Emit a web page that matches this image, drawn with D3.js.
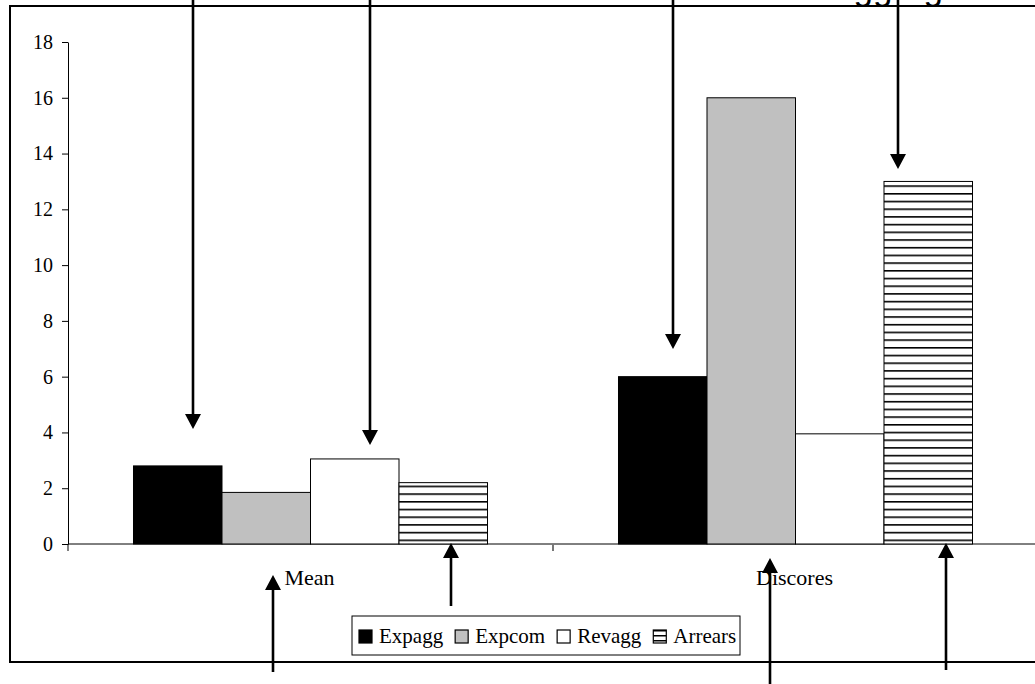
<!DOCTYPE html>
<html>
<head>
  <meta charset="utf-8">
  <title>Mean and Discores</title>
  <style>
    body { margin: 0; background: #fff; }
    svg { display: block; }
  </style>
</head>
<body>
  <div id="chart"></div>
  <script src="https://d3js.org/d3.v7.min.js"></script>
  <script>
  // data
  var categories = ["Mean", "Discores"];
  var series = ["Expagg", "Expcom", "Revagg", "Arrears"];
  var meanValues = [2.8, 1.85, 3.05, 2.2];
  var discoresValues = [6, 16, 3.95, 13];
  var yTicks = [0, 2, 4, 6, 8, 10, 12, 14, 16, 18];
  var fills = ["#000000", "#c0c0c0", "#ffffff", "url(#hstripe)"];

  // annotation arrows (pixel layout, not data): x, tail y, tip y
  var downArrows = [[193, 0, 429], [370, 0, 445], [673, 0, 349], [898, 0, 169]];
  var upArrows = [[273, 672, 575], [451, 606, 543], [770, 684, 558], [946, 670, 543]];

  var W = 1035, H = 684;
  var serif = "'Liberation Serif', 'Times New Roman', serif";

  var svg = d3.select("#chart").append("svg")
    .attr("width", W)
    .attr("height", H);

  var defs = svg.append("defs");
  var pat = defs.append("pattern")
    .attr("id", "hstripe")
    .attr("patternUnits", "userSpaceOnUse")
    .attr("width", 8)
    .attr("height", 7.7)
    .attr("y", 0.5);
  pat.append("rect").attr("width", 8).attr("height", 7.7).attr("fill", "#fff");
  pat.append("rect").attr("y", 0).attr("width", 8).attr("height", 1.6).attr("fill", "#000");

  // cut-off title text at the top right (only its descenders show, as in the source)
  svg.append("text")
    .attr("x", 834)
    .attr("y", 0)
    .attr("font-family", "'Liberation Sans', Arial, sans-serif")
    .attr("font-size", "35px")
    .attr("fill", "#000")
    .text("aggregate");

  // outer frame
  svg.append("rect")
    .attr("x", 10)
    .attr("y", 6)
    .attr("width", 1060)
    .attr("height", 656)
    .attr("fill", "none")
    .attr("stroke", "#000")
    .attr("stroke-width", 2);

  var x0 = d3.scaleBand()
    .domain(categories)
    .range([68, 1038])
    .paddingInner(0)
    .paddingOuter(0);

  var x1 = d3.scaleBand()
    .domain(series)
    .range([0, x0.bandwidth()])
    .paddingInner(0)
    .paddingOuter(0.74);

  var y = d3.scaleLinear()
    .domain([0, 18])
    .range([544, 42]);

  // y axis
  var yAxis = d3.axisLeft(y).tickValues(yTicks).tickSizeInner(6).tickSizeOuter(0).tickPadding(9);
  var gy = svg.append("g")
    .attr("transform", "translate(68,0)")
    .call(yAxis);
  gy.selectAll("text")
    .attr("font-family", serif)
    .attr("font-size", "20px")
    .attr("fill", "#000");
  gy.selectAll("line").attr("stroke", "#000");
  gy.select(".domain").attr("stroke", "#000");

  // x axis line + boundary ticks
  svg.append("line")
    .attr("x1", 68).attr("x2", 1040)
    .attr("y1", y(0)).attr("y2", y(0))
    .attr("stroke", "#000");
  var bounds = categories.map(function(c) { return x0(c); }).concat([x0.range()[1]]);
  svg.selectAll(".xtick")
    .data(bounds)
    .enter().append("line")
    .attr("class", "xtick")
    .attr("x1", function(d) { return d; })
    .attr("x2", function(d) { return d; })
    .attr("y1", y(0))
    .attr("y2", y(0) + 7)
    .attr("stroke", function(d, i) { return i == 0 ? "#000" : "#777"; })
    .attr("stroke-width", function(d, i) { return i == 0 ? 1 : 2; });

  var rows = [meanValues, discoresValues];
  var bars = [];
  categories.forEach(function(c, ci) {
    series.forEach(function(s, si) {
      bars.push({cat: c, ser: s, value: rows[ci][si], fill: fills[si]});
    });
  });

  svg.append("g")
    .selectAll("rect")
    .data(bars)
    .enter().append("rect")
    .attr("x", function(d) { return x0(d.cat) + x1(d.ser); })
    .attr("y", function(d) { return y(d.value); })
    .attr("width", x1.bandwidth())
    .attr("height", function(d) { return y(0) - y(d.value); })
    .attr("fill", function(d) { return d.fill; })
    .attr("stroke", "#000")
    .attr("stroke-width", 1);

  // category labels
  svg.selectAll(".cat")
    .data(categories)
    .enter().append("text")
    .attr("class", "cat")
    .attr("x", function(d) { return x0(d) + x0.bandwidth() / 2 - 1; })
    .attr("y", 585)
    .attr("text-anchor", "middle")
    .attr("font-family", serif)
    .attr("font-size", "22px")
    .attr("fill", "#000")
    .text(function(d) { return d; });

  // legend
  var lg = svg.append("g");
  lg.append("rect")
    .attr("x", 352).attr("y", 616)
    .attr("width", 388).attr("height", 39)
    .attr("fill", "#fff")
    .attr("stroke", "#000")
    .attr("stroke-width", 1);
  var pats = defs.append("pattern")
    .attr("id", "hstripeSmall")
    .attr("patternUnits", "userSpaceOnUse")
    .attr("width", 8)
    .attr("height", 5)
    .attr("y", 630);
  pats.append("rect").attr("width", 8).attr("height", 5).attr("fill", "#fff");
  pats.append("rect").attr("y", 0).attr("width", 8).attr("height", 1.5).attr("fill", "#000");
  var lx = 359;
  series.forEach(function(s, i) {
    lg.append("rect")
      .attr("x", lx).attr("y", 630)
      .attr("width", 13).attr("height", 13)
      .attr("fill", i == 3 ? "url(#hstripeSmall)" : fills[i])
      .attr("stroke", "#000")
      .attr("stroke-width", 1.2);
    var t = lg.append("text")
      .attr("x", lx + 20)
      .attr("y", 643)
      .attr("font-family", serif)
      .attr("font-size", "21px")
      .attr("fill", "#000")
      .text(s);
    lx = lx + 20 + t.node().getComputedTextLength() + 12;
  });

  // arrows
  function arrow(xp, yTail, yTip) {
    var dir = yTip > yTail ? 1 : -1;
    var headLen = 15, headHalf = 8;
    var base = yTip - dir * headLen;
    svg.append("line")
      .attr("x1", xp).attr("x2", xp)
      .attr("y1", yTail).attr("y2", base)
      .attr("stroke", "#000")
      .attr("stroke-width", 2.6);
    svg.append("path")
      .attr("d", d3.line()([[xp - headHalf, base], [xp + headHalf, base], [xp, yTip]]) + "Z")
      .attr("fill", "#000");
  }
  downArrows.forEach(function(a) { arrow(a[0], a[1], a[2]); });
  upArrows.forEach(function(a) { arrow(a[0], a[1], a[2]); });
  </script>
</body>
</html>
